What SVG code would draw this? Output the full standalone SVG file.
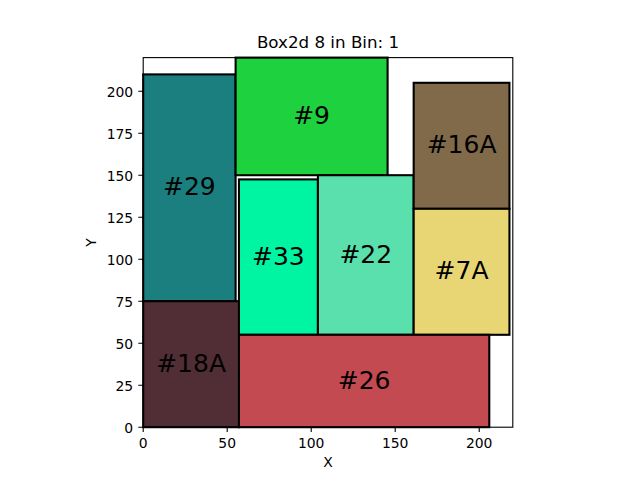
<svg xmlns="http://www.w3.org/2000/svg" width="640" height="480" viewBox="0 0 640 480">
<style>
text{font-family:"DejaVu Sans","Liberation Sans",sans-serif;fill:#000}
.box{stroke:#000;stroke-width:2.08}
.lbl{font-size:25px;text-anchor:middle}
.tk{font-size:13.9px}
.tx{text-anchor:middle}
.ty{text-anchor:end}
.tick{stroke:#000;stroke-width:1.1}
</style>
<rect width="640" height="480" fill="#fff"/>
<text x="328" y="48.3" font-size="16.7" text-anchor="middle">Box2d 8 in Bin: 1</text>
<rect x="143.2" y="57.6" width="369.6" height="369.6" fill="#fff"/>
<g id="node-29"><rect class="box" x="143.2" y="74.4" width="92.4" height="226.8" fill="#1b7f7f"/><text class="lbl" x="189.4" y="195.3">#29</text></g>
<g id="node-9"><rect class="box" x="235.6" y="57.6" width="152" height="117.6" fill="#1dd13f"/><text class="lbl" x="311.6" y="123.9">#9</text></g>
<g id="node-33"><rect class="box" x="238.96" y="179.4" width="78.96" height="155.4" fill="#00f5a3"/><text class="lbl" x="278.4" y="264.6">#33</text></g>
<g id="node-22"><rect class="box" x="317.92" y="175.2" width="95.76" height="159.6" fill="#5ae0ac"/><text class="lbl" x="365.8" y="262.5">#22</text></g>
<g id="node-16A"><rect class="box" x="413.68" y="82.8" width="95.76" height="126" fill="#806a4a"/><text class="lbl" x="461.6" y="153.3">#16A</text></g>
<g id="node-7A"><rect class="box" x="413.68" y="208.8" width="95.76" height="126" fill="#e8d675"/><text class="lbl" x="461.6" y="279.3">#7A</text></g>
<g id="node-26"><rect class="box" x="238.96" y="334.8" width="250.32" height="92.4" fill="#c44a51"/><text class="lbl" x="364.1" y="388.5">#26</text></g>
<g id="node-18A"><rect class="box" x="143.2" y="301.2" width="95.76" height="126" fill="#512e35"/><text class="lbl" x="191.1" y="371.7">#18A</text></g>
<g id="connectors"></g>
<rect x="143.2" y="57.6" width="369.6" height="369.6" fill="none" stroke="#000" stroke-width="1.1"/>
<g id="xticks">
<path class="tick" d="M143.2 427.2v4.9M227.2 427.2v4.9M311.2 427.2v4.9M395.2 427.2v4.9M479.2 427.2v4.9"/>
<text class="tk tx" x="143.2" y="448.3">0</text>
<text class="tk tx" x="227.2" y="448.3">50</text>
<text class="tk tx" x="311.2" y="448.3">100</text>
<text class="tk tx" x="395.2" y="448.3">150</text>
<text class="tk tx" x="479.2" y="448.3">200</text>
</g>
<g id="yticks">
<path class="tick" d="M143.2 427.2h-4.9M143.2 385.2h-4.9M143.2 343.2h-4.9M143.2 301.2h-4.9M143.2 259.2h-4.9M143.2 217.2h-4.9M143.2 175.2h-4.9M143.2 133.2h-4.9M143.2 91.2h-4.9"/>
<text class="tk ty" x="133.2" y="432.7">0</text>
<text class="tk ty" x="133.2" y="390.7">25</text>
<text class="tk ty" x="133.2" y="348.7">50</text>
<text class="tk ty" x="133.2" y="306.7">75</text>
<text class="tk ty" x="133.2" y="264.7">100</text>
<text class="tk ty" x="133.2" y="222.7">125</text>
<text class="tk ty" x="133.2" y="180.7">150</text>
<text class="tk ty" x="133.2" y="138.7">175</text>
<text class="tk ty" x="133.2" y="96.7">200</text>
</g>
<text class="tk tx" x="328" y="466.7">X</text>
<text class="tk tx" transform="translate(96,242.4) rotate(-90)">Y</text>
</svg>
